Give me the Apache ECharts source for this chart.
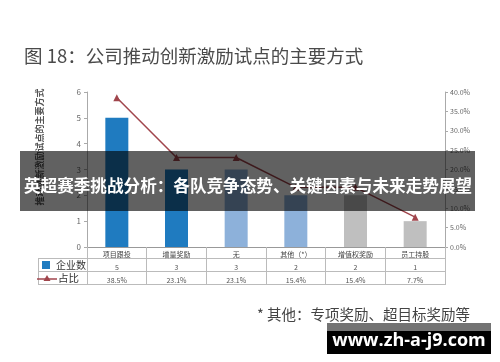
<!DOCTYPE html>
<html><head><meta charset="utf-8">
<script src="https://cdn.jsdelivr.net/npm/echarts@6/dist/echarts.min.js"></script>
<style>html,body{margin:0;padding:0;background:#fff}#c{width:500px;height:362px}</style>
</head><body><div id="c"></div>
<script>
const categories = ['项目跟投', '增量奖励', '无', '其他（*）', '增值权奖励', '员工持股'];
const companyCounts = [5, 3, 3, 2, 2, 1];
const shares = [0.385, 0.231, 0.231, 0.154, 0.154, 0.077];
const leftTicks = [0, 1, 2, 3, 4, 5, 6];
const rightTicks = [0, 0.05, 0.10, 0.15, 0.20, 0.25, 0.30, 0.35, 0.40];
const barColors = ['#1f7bc0', '#1f7bc0', '#8db1da', '#8db1da', '#bfbfbf', '#bfbfbf'];

const FONT = '"Noto Sans CJK SC", "Noto Sans", sans-serif';
const chart = echarts.init(document.getElementById('c'), null, {renderer: 'canvas'});
const pct = v => (v * 100).toFixed(1) + '%';

chart.setOption({
  animation: false,
  textStyle: {fontFamily: FONT},
  title: {text: '图 18：公司推动创新激励试点的主要方式', left: 19, top: 42,
    textStyle: {fontSize: 18.5, fontWeight: 'normal', color: '#4a4a4a', fontFamily: FONT}},
  grid: {left: 87, right: 55, top: 92, bottom: 115},
  xAxis: {type: 'category', data: categories,
    axisLine: {lineStyle: {color: '#999', width: 1}},
    axisTick: {show: true, length: 38, lineStyle: {color: '#bbb'}},
    axisLabel: {margin: 1, interval: 0, lineHeight: 13,
      formatter: (v, i) => '{c|' + v + '}\n{n|' + companyCounts[i] + '}\n{n|' + pct(shares[i]) + '}',
      rich: {c: {fontSize: 7, color: '#444', lineHeight: 13, fontFamily: FONT},
             n: {fontSize: 7, color: '#555', lineHeight: 13, fontFamily: FONT}}}},
  yAxis: [
    {type: 'value', min: leftTicks[0], max: leftTicks[leftTicks.length - 1], interval: 1,
      axisLine: {show: true, lineStyle: {color: '#aaa'}},
      axisTick: {show: true, length: 3, lineStyle: {color: '#aaa'}},
      splitLine: {show: false},
      axisLabel: {fontSize: 8, color: '#666', margin: 6}},
    {type: 'value', min: rightTicks[0], max: rightTicks[rightTicks.length - 1], interval: 0.05,
      axisLine: {show: true, lineStyle: {color: '#aaa'}},
      axisTick: {show: true, length: 3, lineStyle: {color: '#aaa'}},
      splitLine: {show: false},
      axisLabel: {fontSize: 7, color: '#666', margin: 5, formatter: v => pct(v)}}
  ],
  series: [
    {type: 'bar', name: '企业数', yAxisIndex: 0, barWidth: 23,
      data: companyCounts.map((v, i) => ({value: v, itemStyle: {color: barColors[i]}}))},
    {type: 'line', name: '占比', yAxisIndex: 1, data: shares,
      symbol: 'triangle', symbolSize: 7,
      lineStyle: {color: '#a0454c', width: 1.5}, itemStyle: {color: '#a0454c'}}
  ],
  graphic: [
    {type: 'text', x: 40, y: 147, rotation: Math.PI / 2, z: 5,
      style: {text: '推动创新激励试点的主要方式', fontSize: 9, fontWeight: 'bold', fill: '#555',
        align: 'center', verticalAlign: 'middle', fontFamily: FONT}},
    // table lines
    {type: 'line', shape: {x1: 38, y1: 258.5, x2: 445, y2: 258.5}, style: {stroke: '#bbb', lineWidth: 1}},
    {type: 'line', shape: {x1: 38, y1: 271.5, x2: 445, y2: 271.5}, style: {stroke: '#bbb', lineWidth: 1}},
    {type: 'line', shape: {x1: 38, y1: 284.5, x2: 445, y2: 284.5}, style: {stroke: '#bbb', lineWidth: 1}},
    {type: 'line', shape: {x1: 38.5, y1: 258, x2: 38.5, y2: 285}, style: {stroke: '#bbb', lineWidth: 1}},
    {type: 'rect', shape: {x: 42, y: 261, width: 8, height: 8}, style: {fill: '#1f7bc0'}},
    {type: 'text', x: 56, y: 265, style: {text: '企业数', fontSize: 10, fill: '#333', verticalAlign: 'middle', fontFamily: FONT}},
    {type: 'line', shape: {x1: 37, y1: 279, x2: 57, y2: 279}, style: {stroke: '#a0454c', lineWidth: 1.5}},
    {type: 'polygon', shape: {points: [[47, 275], [43.5, 281], [50.5, 281]]}, style: {fill: '#a0454c'}},
    {type: 'text', x: 58, y: 278.5, style: {text: '占比', fontSize: 10.5, fill: '#333', verticalAlign: 'middle', fontFamily: FONT}},
    // footnote
    {type: 'text', x: 257, y: 314, style: {text: '* 其他：专项奖励、超目标奖励等', fontSize: 14.5, fill: '#444', verticalAlign: 'middle', fontFamily: FONT}},
    // overlay banner
    {type: 'rect', z: 100, shape: {x: 20, y: 151, width: 455, height: 60}, style: {fill: 'rgba(0,0,0,0.62)'}},
    {type: 'text', z: 101, x: 248, y: 186, style: {text: '英超赛季挑战分析：各队竞争态势、关键因素与未来走势展望',
      fontSize: 16.6, fontWeight: 'bold', fill: '#fff', align: 'center', verticalAlign: 'middle', fontFamily: FONT}},
    // watermark
    {type: 'rect', z: 100, shape: {x: 327, y: 323, width: 164, height: 8}, style: {fill: 'rgba(0,0,0,0.55)'}},
    {type: 'rect', z: 100, shape: {x: 327, y: 331, width: 164, height: 23}, style: {fill: '#000'}},
    {type: 'text', z: 101, x: 409, y: 341, style: {text: 'www.zh-a-j9.com', fontSize: 18, fontWeight: 'bold',
      fill: '#fff', align: 'center', verticalAlign: 'middle', fontFamily: '"Open Sans", "DejaVu Sans", sans-serif'}}
  ]
});
</script></body></html>
